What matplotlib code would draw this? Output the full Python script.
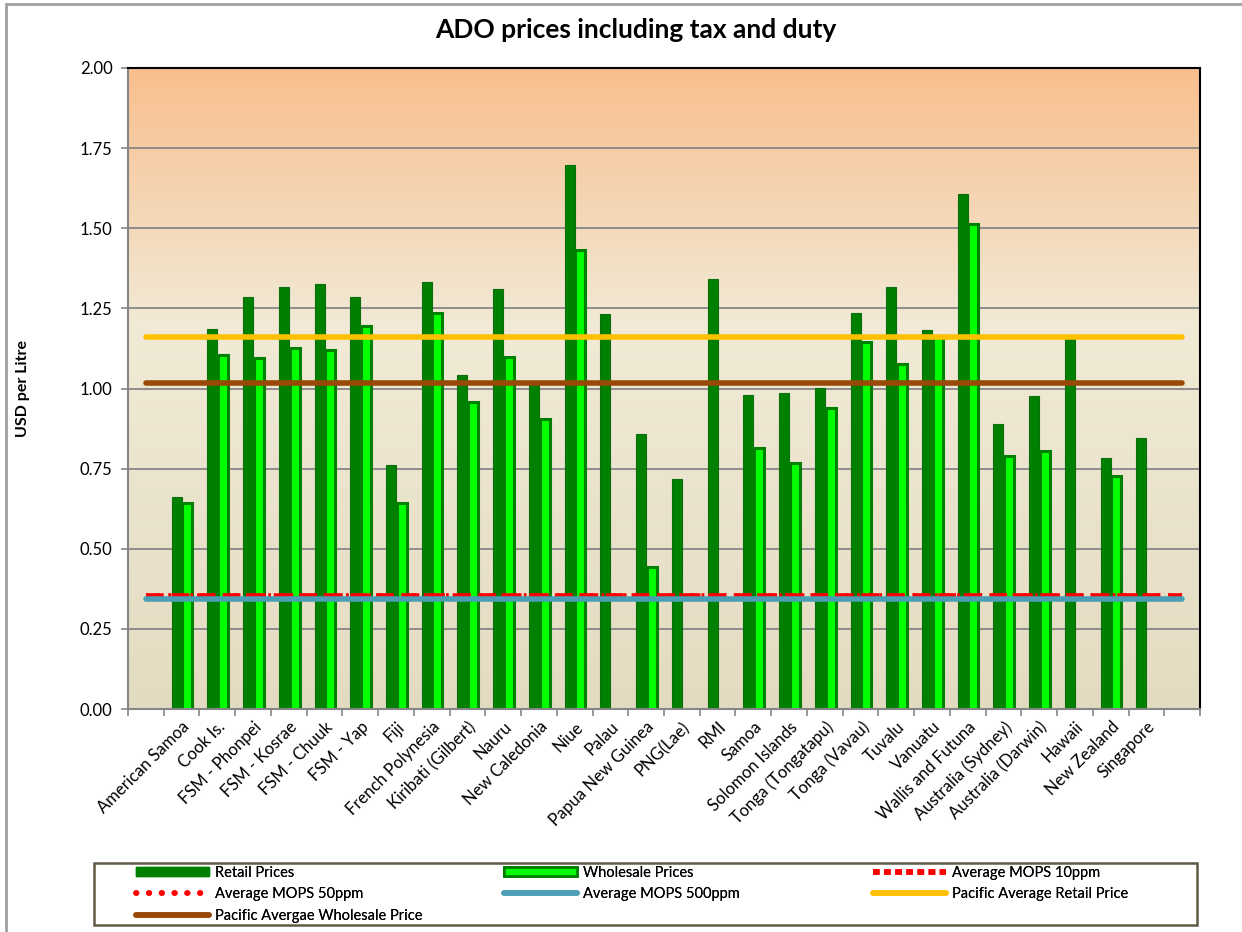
import numpy as np
import matplotlib.pyplot as plt
from matplotlib.patches import Patch, Rectangle
from matplotlib.lines import Line2D
from matplotlib.colors import LinearSegmentedColormap

plt.rcParams['font.family'] = ['Lato', 'DejaVu Sans']

# data
countries = ["American Samoa", "Cook Is.", "FSM - Phonpei", "FSM - Kosrae", "FSM - Chuuk",
             "FSM - Yap", "Fiji", "French Polynesia", "Kiribati (Gilbert)", "Nauru",
             "New Caledonia", "Niue", "Palau", "Papua New Guinea", "PNG(Lae)", "RMI",
             "Samoa", "Solomon Islands", "Tonga (Tongatapu)", "Tonga (Vavau)", "Tuvalu",
             "Vanuatu", "Wallis and Futuna", "Australia (Sydney)", "Australia (Darwin)",
             "Hawaii", "New Zealand", "Singapore"]
retail = [0.663, 1.186, 1.285, 1.317, 1.325, 1.285, 0.762, 1.332, 1.042, 1.311,
          1.013, 1.697, 1.232, 0.857, 0.718, 1.342, 0.980, 0.986, 1.001, 1.237,
          1.317, 1.181, 1.608, 0.889, 0.977, 1.157, 0.784, 0.844]
wholesale = [0.644, 1.104, 1.096, 1.125, 1.119, 1.194, 0.642, 1.235, 0.957, 1.098,
             0.904, 1.433, np.nan, 0.442, np.nan, np.nan, 0.815, 0.769, 0.940, 1.144,
             1.075, 1.165, 1.513, 0.790, 0.804, np.nan, 0.726, np.nan]
mops_10ppm = 0.354
mops_50ppm = 0.352
mops_500ppm = 0.342
pacific_avg_retail = 1.161
pacific_avg_wholesale = 1.018

# blank category at each end, like the original sheet
labels = [""] + countries + [""]
n = len(labels)
x_all = np.arange(n)
x_bar = np.arange(1, n - 1)

fig = plt.figure(figsize=(12.42, 9.32), dpi=100)
ax = fig.add_axes([128 / 1242, 1 - 709 / 932, 1072 / 1242, 641 / 932])

# outer chart border (left/top visible)
fig.add_artist(Rectangle((6 / 1242, -0.05), 1.2, 1 - 4 / 932 + 0.05, transform=fig.transFigure,
                         fill=False, edgecolor='#a0a0a0', linewidth=2))

# gradient plot area
cmap = LinearSegmentedColormap.from_list('bg', [(0.0, (227/255, 219/255, 193/255)),
                                               (0.6, (241/255, 234/255, 214/255)),
                                               (1.0, (249/255, 191/255, 142/255))])
grad = np.linspace(0, 1, 256).reshape(-1, 1)
ax.imshow(grad, cmap=cmap, origin='lower', aspect='auto', extent=[0, 1, 0, 1],
          transform=ax.transAxes, zorder=0)

ax.set_xlim(-0.5, n - 0.5)
ax.set_ylim(0, 2.0)
ax.set_yticks(np.arange(0, 2.01, 0.25))
ax.set_yticklabels([f"{v:.2f}" for v in np.arange(0, 2.01, 0.25)], fontsize=12)
ax.grid(axis='y', color='#868686', linewidth=1.3, zorder=1)
ax.set_axisbelow(True)

ax.bar(x_bar - 0.14, retail, width=0.28, color='#008000', edgecolor='#0a6e0a',
       linewidth=0.8, zorder=2)
ax.bar(x_bar + 0.16, wholesale, width=0.28, color='#00ff00', edgecolor='#008000',
       linewidth=2.2, zorder=2)

ax.plot(x_all, [mops_50ppm] * n, color='red', linestyle=(0, (0.5, 1.5)), linewidth=4, zorder=3)
ax.plot(x_all, [mops_10ppm] * n, color='red', linestyle=(0, (3.2, 1.4)), linewidth=4, zorder=3)
ax.plot(x_all, [mops_500ppm] * n, color='#4a9fb5', linewidth=4, solid_capstyle='round', zorder=3)
ax.plot(x_all, [pacific_avg_retail] * n, color='#ffc000', linewidth=4, solid_capstyle='round', zorder=3)
ax.plot(x_all, [pacific_avg_wholesale] * n, color='#984807', linewidth=4, solid_capstyle='round', zorder=3)

# category ticks between slots, labels at centres
ax.set_xticks(x_bar)
ax.set_xticklabels(countries, rotation=45, ha='right', rotation_mode='anchor', fontsize=12)
ax.tick_params(axis='x', which='major', length=0, pad=7)
ax.set_xticks(np.arange(-0.5, n), minor=True)
ax.tick_params(axis='x', which='minor', length=5, color='#868686', width=1.2)
ax.tick_params(axis='y', length=5, color='#868686', width=1.2, pad=6)

for s in ['left', 'bottom']:
    ax.spines[s].set_color('#868686')
    ax.spines[s].set_linewidth(1.5)
for s in ['top', 'right']:
    ax.spines[s].set_color('black')
    ax.spines[s].set_linewidth(1.5)

ax.set_ylabel('USD per Litre', fontsize=11.5, fontweight='bold')
ax.yaxis.set_label_coords((30 - 128) / 1072, 0.5)
fig.text(0.512, 1 - 30 / 932, 'ADO prices including tax and duty', ha='center', va='center',
         fontsize=19, fontweight='bold')

# legend: three fixed-width columns inside one frame, row-wise order like the original
h_retail = Patch(facecolor='#008000', edgecolor='#008000')
h_whole = Patch(facecolor='#00ff00', edgecolor='#008000', linewidth=2)
h_m10 = Line2D([], [], color='red', linestyle=(0, (1.2, 0.8)), linewidth=4)
h_m50 = Line2D([], [], color='red', linestyle=(0, (0.1, 2.2)), linewidth=4, dash_capstyle='round')
h_m500 = Line2D([], [], color='#4a9fb5', linewidth=4, solid_capstyle='round')
h_pr = Line2D([], [], color='#ffc000', linewidth=4, solid_capstyle='round')
h_pw = Line2D([], [], color='#984807', linewidth=4, solid_capstyle='round')
legend_cols = [
    ([h_retail, h_m50, h_pw], ['Retail Prices', 'Average MOPS 50ppm', 'Pacific Avergae Wholesale Price']),
    ([h_whole, h_m500], ['Wholesale Prices', 'Average MOPS 500ppm']),
    ([h_m10, h_pr], ['Average MOPS 10ppm', 'Pacific Average Retail Price']),
]
col_x = [136, 504, 873]
for (hs, ns), cx in zip(legend_cols, col_x):
    lg = fig.legend(hs, ns, loc='upper left', bbox_to_anchor=(cx / 1242, 1 - 866 / 932),
                    fontsize=10.5, handlelength=5.0, handleheight=0.6, handletextpad=0.4,
                    labelspacing=0.5, borderpad=0, borderaxespad=0, frameon=False)
    fig.add_artist(lg)
fig.add_artist(Rectangle((94 / 1242, 1 - 925 / 932), 1103 / 1242, 62 / 932,
                         transform=fig.transFigure, fill=False, edgecolor='#5f5a45', linewidth=1.8))

fig.savefig('out.png', dpi=100, facecolor='white')
